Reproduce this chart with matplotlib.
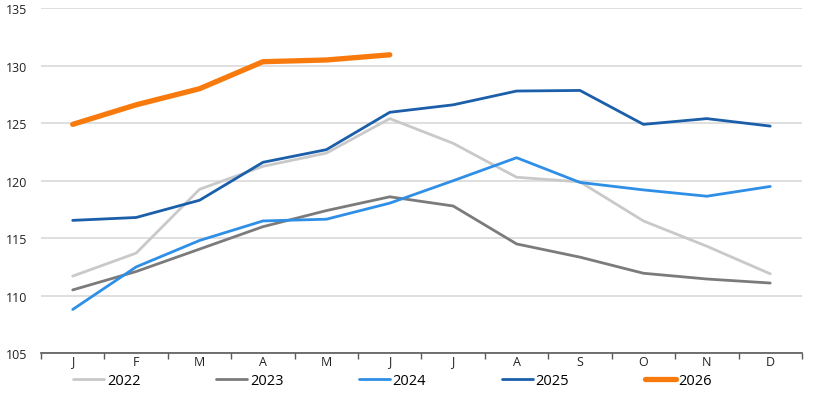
import matplotlib
matplotlib.use('Agg')
import matplotlib.pyplot as plt
import numpy as np

plt.rcParams['font.family'] = ['Open Sans', 'DejaVu Sans']

months = ['J', 'F', 'M', 'A', 'M', 'J', 'J', 'A', 'S', 'O', 'N', 'D']

y2022 = [111.7, 113.7, 119.25, 121.25, 122.4, 125.4, 123.25, 120.3, 119.9, 116.5, 114.3, 111.9]
y2023 = [110.5, 112.1, 114.05, 116.0, 117.4, 118.6, 117.8, 114.5, 113.35, 111.95, 111.45, 111.1]
y2024 = [108.8, 112.5, 114.8, 116.5, 116.65, 118.05, 120.0, 122.0, 119.85, 119.2, 118.65, 119.5]
y2025 = [116.55, 116.8, 118.3, 121.6, 122.7, 125.95, 126.6, 127.8, 127.85, 124.9, 125.4, 124.75]
y2026 = [124.9, 126.6, 128.0, 130.35, 130.5, 130.95]

series = [
    ('2022', y2022, '#c9c9c9', 2.0),
    ('2023', y2023, '#7b7b7b', 2.0),
    ('2024', y2024, '#2f8fe6', 2.0),
    ('2025', y2025, '#1b5ea9', 2.0),
    ('2026', y2026, '#f97a0c', 3.8),
]

fig = plt.figure(figsize=(8.2, 4.02), dpi=100)
ax = fig.add_axes([0.05, 0.119, 0.928, 0.858])

for name, vals, col, lw in series:
    ax.plot(np.arange(len(vals)), vals, color=col, lw=lw, label=name,
            solid_capstyle='round', zorder=3)

ax.set_xlim(-0.5, 11.5)
ax.set_ylim(105, 135)
ax.set_yticks(range(105, 136, 5))
ax.yaxis.grid(True, color='#d9d9d9', lw=1.2, zorder=0)
ax.set_axisbelow(True)

ax.set_xticks(range(12))
ax.set_xticklabels(months)
ax.set_xticks(np.arange(-0.5, 12, 1), minor=True)
ax.tick_params(axis='x', which='major', length=0, pad=1, labelsize=9, colors='#222222')
ax.tick_params(axis='x', which='minor', length=4, color='#595959', width=1)
ax.tick_params(axis='y', length=0, labelsize=9, colors='#222222', pad=10)

for s in ['top', 'right', 'left']:
    ax.spines[s].set_visible(False)
ax.spines['bottom'].set_color('#595959')
ax.spines['bottom'].set_linewidth(1.2)

fig.legend(loc='center', bbox_to_anchor=(0.479, 0.05), ncol=5, frameon=False,
           fontsize=10.5, handlelength=2.1, handletextpad=0.2, columnspacing=5.2)

fig.savefig('out.png', dpi=100)
